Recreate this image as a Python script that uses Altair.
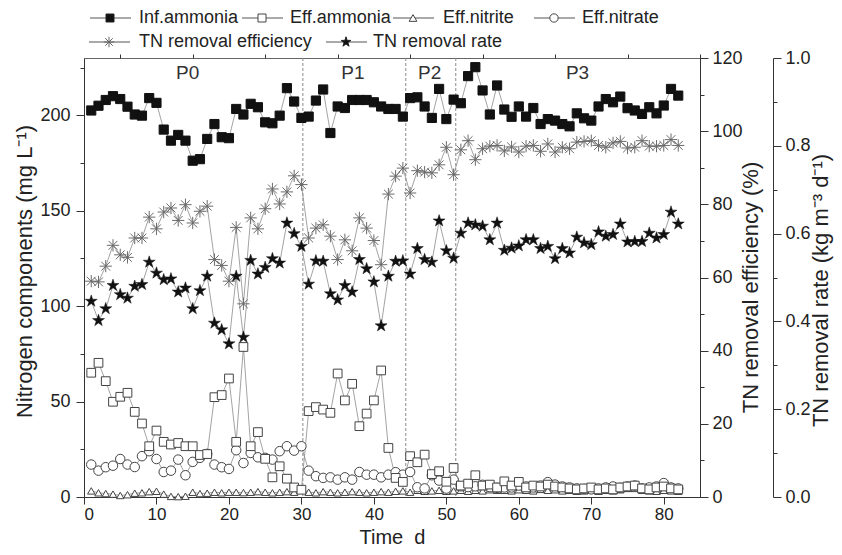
import altair as alt
import pandas as pd

days = list(range(1, 83))

inf_ammonia = [202.5, 205.0, 208.0, 210.0, 208.5, 204.5, 200.4, 199.8, 209.0, 206.5,
               192.5, 186.7, 189.7, 186.7, 176.2, 177.0, 187.6, 195.4, 188.5, 188.0,
               203.3, 200.4, 206.0, 204.2, 196.3, 195.8, 199.8, 214.2, 207.2, 198.6,
               199.3, 207.7, 213.5, 190.7, 204.6, 203.8, 208.0, 208.0, 208.0, 206.8,
               204.6, 203.3, 203.3, 199.3, 209.0, 209.4, 204.6, 198.6, 213.8, 198.0,
               208.2, 206.3, 220.5, 225.2, 213.0, 200.4, 215.6, 203.0, 199.2, 204.6,
               199.3, 203.8, 195.4, 198.0, 197.2, 195.4, 194.2, 201.0, 198.4, 197.2,
               204.6, 208.5, 206.8, 209.8, 203.7, 202.5, 200.7, 204.2, 201.0, 205.1,
               213.8, 210.3]

eff_ammonia = [65.1, 70.3, 60.7, 49.9, 52.5, 54.6, 44.6, 38.5, 26.6, 34.8,
               28.9, 27.5, 28.3, 26.6, 26.6, 22.0, 22.5, 52.3, 53.4, 62.1,
               28.9, 78.6, 26.6, 34.0, 20.0, 10.3, 16.1, 9.6, 5.0, 3.8,
               45.0, 47.1, 45.8, 44.1, 64.7, 50.6, 59.3, 37.1, 43.7, 50.6,
               66.3, 25.7, 10.0, 7.9, 21.4, 18.2, 22.2, 12.0, 13.5, 8.0,
               15.2, 6.0, 7.0, 11.4, 6.0, 6.5, 5.0, 8.2, 6.0, 7.9,
               5.0, 6.0, 5.5, 6.5, 5.5, 5.0, 4.5, 4.0, 4.5, 5.0,
               4.0, 4.5, 4.0, 5.0, 5.5, 6.0, 4.5, 4.0, 5.0, 5.5,
               4.5, 4.0]

eff_nitrite = [3.2, 2.2, 1.8, 1.5, 0.8, 1.2, 2.0, 2.2, 2.8, 3.0,
               1.5, 0.3, 0.2, 0.4, 2.5, 1.8, 2.0, 2.5, 2.2, 2.5,
               2.5, 2.3, 2.5, 2.8, 2.5, 2.2, 2.5, 2.8, 2.5, 3.5,
               2.5, 2.2, 2.8, 2.5, 2.2, 2.5, 2.8, 2.5, 2.2, 2.5,
               2.8, 2.5, 3.0, 3.2, 2.5, 3.5, 3.0, 3.2, 3.5, 3.0,
               3.2, 3.5, 3.0, 3.5, 3.2, 3.8, 3.5, 3.5, 3.2, 3.8,
               3.5, 3.2, 4.0, 3.5, 3.8, 3.2, 3.5, 3.0, 3.2, 3.5,
               3.0, 3.5, 3.2, 3.8, 4.5, 4.5, 3.5, 3.2, 3.0, 3.5,
               3.2, 3.0]

eff_nitrate = [17.0, 13.8, 15.6, 16.4, 19.9, 17.0, 15.7, 21.4, 24.0, 19.9,
               13.1, 13.8, 19.6, 11.4, 18.4, 20.5, 22.6, 17.0, 15.6, 14.7,
               24.5, 17.8, 23.1, 20.8, 20.5, 19.6, 24.0, 26.6, 24.3, 26.6,
               13.8, 10.9, 10.0, 10.3, 9.1, 10.3, 9.1, 13.1, 11.7, 11.7,
               10.3, 11.7, 13.0, 11.7, 13.1, 5.1, 4.5, 11.4, 8.6, 4.4,
               9.1, 5.6, 5.2, 5.6, 6.4, 5.2, 4.8, 5.0, 5.0, 6.0,
               5.5, 5.0, 6.0, 7.8, 6.5, 5.5, 5.0, 4.5, 4.2, 4.0,
               4.5, 5.0, 5.5, 4.8, 5.5, 6.0, 4.5, 5.0, 5.5, 7.3,
               5.0, 4.5]

tn_efficiency = [59.0, 58.8, 63.1, 68.8, 66.2, 65.5, 70.8, 70.8, 76.5, 73.3,
                 77.9, 79.0, 75.6, 79.9, 74.9, 78.1, 79.5, 64.9, 63.3, 59.0,
                 73.7, 52.8, 76.3, 73.3, 78.8, 84.2, 80.1, 83.4, 87.8, 85.4,
                 70.8, 73.5, 74.4, 71.3, 64.9, 70.3, 67.3, 76.3, 73.5, 70.1,
                 63.5, 82.8, 87.7, 89.9, 83.1, 89.2, 88.8, 88.6, 90.8, 95.6,
                 88.1, 94.9, 97.4, 92.2, 95.2, 95.9, 96.1, 94.6, 95.7, 94.3,
                 95.9, 96.1, 94.5, 96.5, 94.3, 95.6, 95.2, 97.0, 97.2, 97.4,
                 96.1, 95.6, 96.8, 97.2, 95.4, 95.6, 97.4, 95.9, 95.9, 96.1,
                 97.7, 96.1]

tn_rate = [0.446, 0.402, 0.429, 0.482, 0.461, 0.453, 0.480, 0.484, 0.535, 0.510,
           0.495, 0.497, 0.467, 0.476, 0.429, 0.470, 0.503, 0.396, 0.381, 0.349,
           0.503, 0.364, 0.539, 0.508, 0.523, 0.543, 0.533, 0.624, 0.600, 0.571,
           0.485, 0.538, 0.537, 0.463, 0.449, 0.482, 0.467, 0.541, 0.520, 0.490,
           0.390, 0.503, 0.537, 0.538, 0.508, 0.566, 0.541, 0.535, 0.629, 0.561,
           0.544, 0.601, 0.624, 0.620, 0.617, 0.586, 0.624, 0.562, 0.567, 0.572,
           0.586, 0.586, 0.566, 0.571, 0.543, 0.566, 0.556, 0.592, 0.579, 0.575,
           0.604, 0.594, 0.598, 0.622, 0.581, 0.582, 0.582, 0.601, 0.590, 0.598,
           0.649, 0.622]

phase_bounds = [30.2, 44.4, 51.3]
phase_labels = ["P0", "P1", "P2", "P3"]
phase_label_x = [14.3, 37.1, 47.7, 68.1]
phase_label_y = [222, 222, 222, 222]

series_names = ["Inf.ammonia", "Eff.ammonia", "Eff.nitrite", "Eff.nitrate",
                "TN removal efficiency", "TN removal rate"]

df = pd.DataFrame({"day": days, "inf": inf_ammonia, "effamm": eff_ammonia,
                   "nitrite": eff_nitrite, "nitrate": eff_nitrate,
                   "tneff": tn_efficiency, "tnrate": tn_rate})
bounds_df = pd.DataFrame({"x": phase_bounds})
plabel_df = pd.DataFrame({"x": phase_label_x, "y": phase_label_y, "t": phase_labels})

FONT = "Liberation Sans"
LINE = "#8c8c8c"
DARK = "#222222"

STAR = "M0,-1.2L0.27,-0.37L1.14,-0.37L0.44,0.14L0.71,0.97L0,0.46L-0.71,0.97L-0.44,0.14L-1.14,-0.37L-0.27,-0.37Z"
AST = "M-1,0L1,0M0,-1L0,1M-0.72,-0.72L0.72,0.72M-0.72,0.72L0.72,-0.72"

# legend layout (guide only, pixel offsets from the plot's top-left corner)
leg_shapes = ["square", "square", "triangle-up", "circle", AST, STAR]
leg_fill = ["#111111", "white", "white", "white", "transparent", "#111111"]
leg_stroke = ["#222222", "#444444", "#444444", "#444444", "#666666", "#222222"]
leg_sym_x = [26, 178, 329, 470, 25, 262]
leg_text_x = [55, 206, 359, 498, 55, 289]
leg_row_y = [-40, -40, -40, -40, -16, -16]
leg_sizes = [64, 64, 60, 70, 110, 75]

legend_df = pd.DataFrame({"series": series_names, "sx": leg_sym_x, "tx": leg_text_x,
                          "ry": leg_row_y, "sz": leg_sizes})
legend_df["lx1"] = legend_df["sx"] - 20
legend_df["lx2"] = legend_df["sx"] + 21

XD = [0, 85]
YL = [0, 230]
YE = [0, 120]
YR = [0, 1]


def xs(field, axis=None):
    return alt.X(f"{field}:Q", scale=alt.Scale(domain=XD, nice=False, zero=False), axis=axis)


def ys(field, dom, axis=None):
    return alt.Y(f"{field}:Q", scale=alt.Scale(domain=dom, nice=False, zero=False), axis=axis)


base = alt.Chart(df)

x_major = alt.Axis(values=list(range(0, 81, 10)), title="Time\u00a0\u00a0d", tickSize=7,
                   labelPadding=2, labelFontSize=17, titleY=46,
                   titleBaseline="alphabetic", titleFontSize=20)
x_minor = alt.Axis(values=list(range(5, 86, 10)), labels=False, tickSize=4,
                   domain=False, title=None)
yl_major = alt.Axis(orient="left", values=[0, 50, 100, 150, 200],
                    title="Nitrogen components (mg L⁻¹)", tickSize=8, labelPadding=6,
                    titleAngle=270, titleX=-53, titleY=213, titleBaseline="alphabetic",
                    titleFontSize=22)
yl_minor = alt.Axis(orient="left", values=[25, 75, 125, 175, 225], labels=False,
                    tickSize=4, domain=False, title=None)
ye_major = alt.Axis(orient="right", values=[0, 20, 40, 60, 80, 100, 120],
                    title="TN removal efficiency (%)", tickSize=8, labelPadding=4,
                    titleAngle=270, titleX=57, titleY=229, titleBaseline="alphabetic",
                    titleFontSize=22)
ye_minor = alt.Axis(orient="right", values=[10, 30, 50, 70, 90, 110], labels=False,
                    tickSize=4, domain=False, title=None)
yr_major = alt.Axis(orient="right", offset=73, values=[0, 0.2, 0.4, 0.6, 0.8, 1.0],
                    format=".1f", title="TN removal rate (kg m⁻³ d⁻¹)", tickSize=8,
                    labelPadding=4, titleAngle=270, titleX=54, titleY=232,
                    titleBaseline="alphabetic", titleFontSize=22)
yr_minor = alt.Axis(orient="right", offset=73, values=[0.1, 0.3, 0.5, 0.7, 0.9],
                    labels=False, tickSize=4, domain=False, title=None)

rules = alt.Chart(bounds_df).mark_rule(color="#8a8a8a", strokeDash=[3, 2], strokeWidth=1).encode(
    x=xs("x"))
ptext = alt.Chart(plabel_df).mark_text(font=FONT, fontSize=19, color="#333333").encode(
    x=xs("x"), y=ys("y", YL), text="t:N")


def line(field, dom, xaxis=None, yaxis=None):
    return base.mark_line(color=LINE, strokeWidth=0.8).encode(
        x=xs("day", xaxis), y=ys(field, dom, yaxis))


def pts(field, dom, shape, fill, stroke, size, sw=1.0, xaxis=None, yaxis=None):
    return base.mark_point(shape=shape, fill=fill, stroke=stroke, size=size,
                           strokeWidth=sw, opacity=1, filled=False).encode(
        x=xs("day", xaxis), y=ys(field, dom, yaxis))


l_inf = line("inf", YL, xaxis=x_major, yaxis=yl_major)
l_amm = line("effamm", YL)
l_nii = line("nitrite", YL)
l_nia = line("nitrate", YL)
l_eff = line("tneff", YE, yaxis=ye_major)
l_rate = line("tnrate", YR, yaxis=yr_major)

p_nii = pts("nitrite", YL, "triangle-up", "white", "#444444", 55, xaxis=x_minor, yaxis=yl_minor)
p_nia = pts("nitrate", YL, "circle", "white", "#444444", 90)
p_amm = pts("effamm", YL, "square", "white", "#444444", 76)
p_eff = pts("tneff", YE, AST, "transparent", "#6a6a6a", 150, yaxis=ye_minor)
p_rate = pts("tnrate", YR, STAR, "#111111", "#111111", 110, sw=0.5, yaxis=yr_minor)
p_inf = pts("inf", YL, "square", "#111111", "#111111", 84)

leg = alt.Chart(legend_df)
leg_lines = leg.mark_rule(color="#555555", strokeWidth=1).encode(
    x=alt.X("lx1:Q", scale=None), x2="lx2:Q", y=alt.Y("ry:Q", scale=None))
leg_syms = leg.mark_point(opacity=1, strokeWidth=1).encode(
    x=alt.X("sx:Q", scale=None), y=alt.Y("ry:Q", scale=None),
    shape=alt.Shape("series:N", scale=alt.Scale(domain=series_names, range=leg_shapes), legend=None),
    fill=alt.Fill("series:N", scale=alt.Scale(domain=series_names, range=leg_fill), legend=None),
    stroke=alt.Stroke("series:N", scale=alt.Scale(domain=series_names, range=leg_stroke), legend=None),
    size=alt.Size("sz:Q", scale=None, legend=None))
leg_text = leg.mark_text(align="left", baseline="middle", font=FONT, fontSize=18,
                         color=DARK).encode(
    x=alt.X("tx:Q", scale=None), y=alt.Y("ry:Q", scale=None), text="series:N")

chart = alt.layer(
    rules, ptext,
    l_inf, l_amm, l_nii, l_nia, l_eff, l_rate,
    p_nii, p_nia, p_amm, p_eff, p_rate, p_inf,
    leg_lines, leg_syms, leg_text,
).resolve_scale(
    x="independent", y="independent"
).properties(
    width=616, height=439,
    autosize=alt.AutoSizeParams(type="none"),
    padding={"left": 76, "top": 50, "right": 134, "bottom": 50},
).configure_view(
    stroke="#666666", strokeWidth=1
).configure_axis(
    labelFont=FONT, titleFont=FONT, labelFontSize=18, titleFontSize=22,
    titleFontWeight="normal", labelColor=DARK, titleColor=DARK,
    domainColor="#333333", tickColor="#333333", grid=False,
)

chart.save("out.html", embed_options={"renderer": "svg", "actions": False})
